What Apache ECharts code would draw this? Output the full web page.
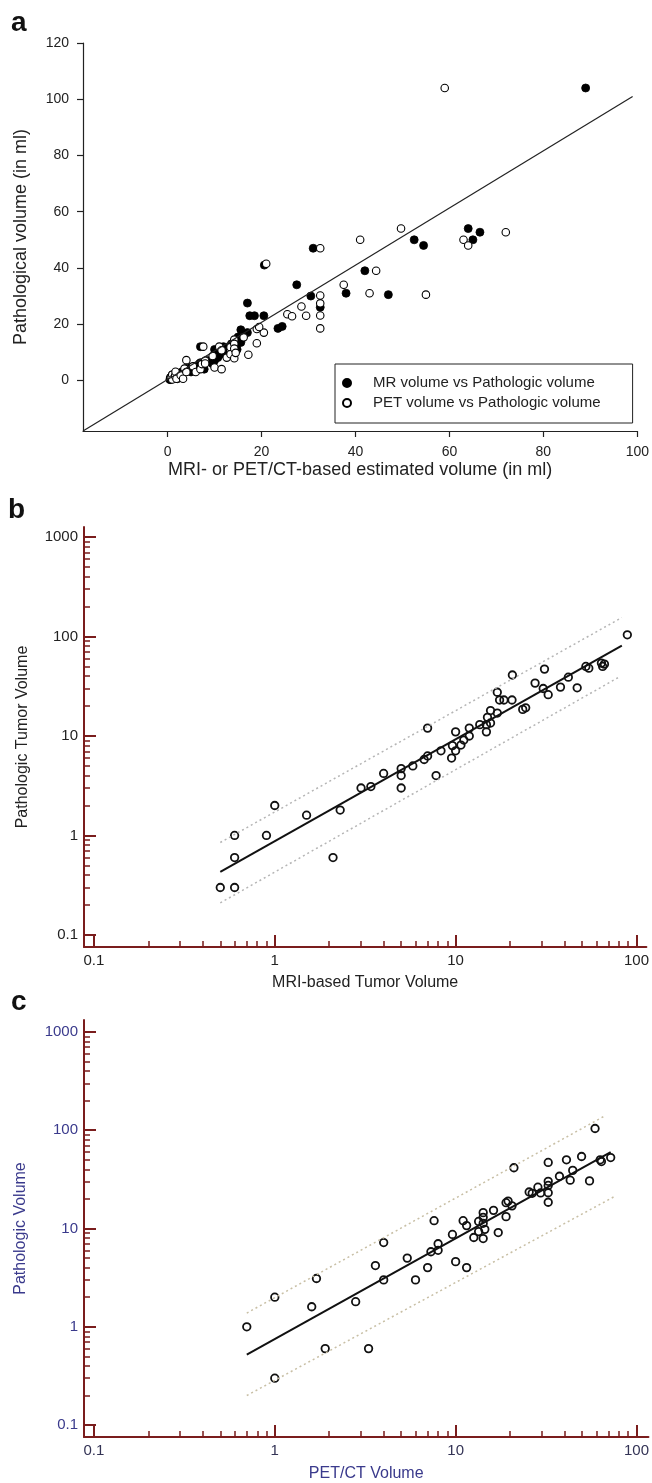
<!DOCTYPE html>
<html><head><meta charset="utf-8">
<script src="https://cdn.jsdelivr.net/npm/echarts@6/dist/echarts.min.js"></script>
<style>html,body{margin:0;padding:0;background:#fff}#chart{width:652px;height:1483px}</style>
</head><body><div id="chart"></div>
<script>
// MRI-based volume vs pathologic volume (ml)
const mrPoints = [
[0.5,0.3],[0.6,0.3],[0.6,0.6],[0.6,1.0],[0.9,1.0],[1.0,2.0],[1.5,1.6],[2.1,0.6],[2.3,1.8],[3.0,3.0],
[3.4,3.1],[4.0,4.2],[5.0,4.7],[5.0,4.0],[5.0,3.0],[5.8,5.0],[6.7,5.8],[7.0,6.3],[7.0,12],[7.8,4.0],
[8.3,7.1],[9.5,6.0],[9.6,8.0],[10,11],[10,7.1],[10.7,8.1],[11.1,9.1],[11.9,10],[11.9,12],[13.6,13],
[14.8,11],[14.8,13],[15,15.4],[15.6,18],[15.6,13.5],[17,17],[17,27.5],[17.5,23],[18.5,23],[20.5,23],
[20.6,41],[23.5,18.5],[24.4,19.2],[27.5,34],[30.5,30],[31,47],[32.5,26],[38,31],[42,39],[47,30.5],
[52.5,50],[54.5,48],[64,54],[65,50],[66.5,52.7],[89,104]
];
// PET/CT-based volume vs pathologic volume (ml)
const petPoints = [
[0.7,1.0],[1,2],[1,0.3],[1.6,1.6],[1.7,3.1],[1.9,0.6],[2.8,1.8],[3.3,0.6],[3.6,4.2],[4,7.2],
[4,3],[5.4,5],[6,3],[7,4],[7.3,5.8],[8,7],[8,6],[7.6,12],[9.6,8.7],[10,4.6],
[11.5,4],[11,12],[11.5,10.7],[12.6,8.1],[13.4,11.8],[13.4,9.3],[14.2,7.9],[14.2,14.5],[14.2,13],[14.2,11.3],
[14.5,9.8],[16.2,15.3],[17.2,9.1],[19,18.3],[19,13.2],[20.5,17],[19.5,19],[21,41.5],[25.5,23.5],[26.5,22.8],
[28.5,26.3],[29.5,23],[32.5,47],[32.5,30.2],[32.5,27.4],[32.5,23.1],[32.5,18.5],[37.5,34],[41,50],[43,31],
[44.4,39],[49.7,54],[55,30.5],[59,104],[63,50],[64,48],[72,52.7]
];
// reference / regression lines (endpoints in data units)
const identityLine = [[-18,-18],[99,101]];
const mrFit = [[0.5,0.43],[83,81]];
const mrUpper = [[0.5,0.85],[83,155]];
const mrLower = [[0.5,0.21],[80,39]];
const petFit = [[0.7,0.52],[72,60]];
const petUpper = [[0.7,1.38],[66,138]];
const petLower = [[0.7,0.2],[75,21]];
// tick labels
const linXTicks = [0,20,40,60,80,100];
const linYTicks = [0,20,40,60,80,100,120];
const logMajor = [0.1,1,10,100,1000];
const logMinor = [0.2,0.3,0.4,0.5,0.6,0.7,0.8,0.9,2,3,4,5,6,7,8,9,20,30,40,50,60,70,80,90,200,300,400,500,600,700,800,900];
const legendNames = ['MR volume vs Pathologic volume','PET volume vs Pathologic volume'];
const panelLetters = ['a','b','c'];

const FONT = 'Liberation Sans, Arial, sans-serif';
const RED = '#7a1d1d';
const NAVY = '#3a3a8c';
const fmt = v => String(Number(Number(v).toPrecision(6)));

function logAxes(dim, gridIndex, min, max, name, nameGap, labelColor, nameColor) {
  const pos = dim === 'x' ? 'bottom' : 'left';
  const main = {
    type: 'log', logBase: 10, gridIndex, min, max, position: pos,
    name, nameLocation: 'middle', nameGap,
    nameRotate: dim === 'y' ? 90 : 0,
    nameTextStyle: {fontFamily: FONT, fontSize: 16, color: nameColor},
    axisLine: {show: true, onZero: false, lineStyle: {color: RED, width: 2}},
    axisTick: {show: true, inside: true, length: 12, customValues: logMajor, lineStyle: {color: RED, width: 2}},
    minorTick: {show: false},
    axisLabel: {show: true, customValues: logMajor, formatter: fmt, margin: 6,
      fontFamily: FONT, fontSize: 15, color: labelColor},
    splitLine: {show: false}
  };
  const minor = {
    type: 'log', logBase: 10, gridIndex, min, max, position: pos,
    axisLine: {show: false, onZero: false},
    axisTick: {show: true, inside: true, length: 6, customValues: logMinor, lineStyle: {color: RED, width: 1.5}},
    axisLabel: {show: false},
    splitLine: {show: false}
  };
  return [main, minor];
}

const bX = logAxes('x', 1, 0.0882, 113.4, 'MRI-based Tumor Volume', 28, '#222', '#222');
const bY = logAxes('y', 1, 0.0757, 1260, 'Pathologic Tumor Volume', 53, '#222', '#222');
const cX = logAxes('x', 2, 0.0881, 116.4, 'PET/CT Volume', 29, '#333355', NAVY);
const cY = logAxes('y', 2, 0.0757, 1321, 'Pathologic Volume', 55, NAVY, NAVY);

const linAxisCommon = {
  axisLine: {show: true, onZero: false, lineStyle: {color: '#222', width: 1.2}},
  splitLine: {show: false}
};

const option = {
  animation: false,
  backgroundColor: '#fff',
  title: [
    {text: panelLetters[0], left: 11, top: 9},
    {text: panelLetters[1], left: 8, top: 496},
    {text: panelLetters[2], left: 11, top: 988}
  ].map(t => Object.assign(t, {padding: 0, textStyle: {fontFamily: FONT, fontSize: 28, fontWeight: 'bold', color: '#111', lineHeight: 28}})),
  grid: [
    {left: 83, top: 43, width: 559, height: 388},
    {left: 84, top: 527, width: 568, height: 420},
    {left: 84, top: 1020, width: 568, height: 420}
  ],
  legend: {
    data: legendNames,
    orient: 'vertical',
    left: 335, top: 364,
    padding: [10, 32, 11, 7],
    itemWidth: 42, itemHeight: 8, itemGap: 2,
    borderColor: '#222', borderWidth: 1,
    selectedMode: false,
    textStyle: {fontFamily: FONT, fontSize: 15, color: '#222', lineHeight: 18}
  },
  xAxis: [
    Object.assign({
      type: 'value', gridIndex: 0, min: -18, max: 100, position: 'bottom',
      name: 'MRI- or PET/CT-based estimated volume (in ml)', nameLocation: 'middle', nameGap: 30,
      nameTextStyle: {fontFamily: FONT, fontSize: 18, color: '#222'},
      axisTick: {show: true, length: 6, customValues: linXTicks, lineStyle: {color: '#222', width: 1.2}},
      axisLabel: {customValues: linXTicks, margin: 14, fontFamily: FONT, fontSize: 14, color: '#222'}
    }, linAxisCommon),
    bX[0], bX[1], cX[0], cX[1]
  ],
  yAxis: [
    Object.assign({
      type: 'value', gridIndex: 0, min: -18, max: 120, position: 'left',
      name: 'Pathological volume (in ml)', nameLocation: 'middle', nameGap: 53, nameRotate: 90,
      nameTextStyle: {fontFamily: FONT, fontSize: 18, color: '#222'},
      axisTick: {show: true, length: 6, customValues: linYTicks, lineStyle: {color: '#222', width: 1.2}},
      axisLabel: {customValues: linYTicks, margin: 14, fontFamily: FONT, fontSize: 14, color: '#222'}
    }, linAxisCommon),
    bY[0], bY[1], cY[0], cY[1]
  ],
  series: [
    {type: 'line', xAxisIndex: 0, yAxisIndex: 0, data: identityLine, symbol: 'none', silent: true,
      lineStyle: {color: '#222', width: 1.2}},
    {name: legendNames[0], type: 'scatter', xAxisIndex: 0, yAxisIndex: 0, data: mrPoints, symbol: 'circle', symbolSize: 8,
      itemStyle: {color: '#000', borderColor: '#000', borderWidth: 0.8, opacity: 1}},
    {name: legendNames[1], type: 'scatter', xAxisIndex: 0, yAxisIndex: 0, data: petPoints, symbol: 'circle', symbolSize: 7.5,
      itemStyle: {color: '#fff', borderColor: '#000', borderWidth: 1.1, opacity: 1}},

    {type: 'line', xAxisIndex: 1, yAxisIndex: 1, data: mrUpper, symbol: 'none', silent: true,
      lineStyle: {color: '#b5b5b5', width: 1.5, type: [2, 3]}},
    {type: 'line', xAxisIndex: 1, yAxisIndex: 1, data: mrLower, symbol: 'none', silent: true,
      lineStyle: {color: '#b5b5b5', width: 1.5, type: [2, 3]}},
    {type: 'line', xAxisIndex: 1, yAxisIndex: 1, data: mrFit, symbol: 'none', silent: true,
      lineStyle: {color: '#111', width: 2}},
    {type: 'scatter', xAxisIndex: 1, yAxisIndex: 1, data: mrPoints, symbol: 'circle', symbolSize: 7.5,
      itemStyle: {color: 'rgba(255,255,255,0)', borderColor: '#111', borderWidth: 1.8, opacity: 1}},

    {type: 'line', xAxisIndex: 3, yAxisIndex: 3, data: petUpper, symbol: 'none', silent: true,
      lineStyle: {color: '#c8bfa5', width: 1.5, type: [2, 3]}},
    {type: 'line', xAxisIndex: 3, yAxisIndex: 3, data: petLower, symbol: 'none', silent: true,
      lineStyle: {color: '#c8bfa5', width: 1.5, type: [2, 3]}},
    {type: 'line', xAxisIndex: 3, yAxisIndex: 3, data: petFit, symbol: 'none', silent: true,
      lineStyle: {color: '#111', width: 2}},
    {type: 'scatter', xAxisIndex: 3, yAxisIndex: 3, data: petPoints, symbol: 'circle', symbolSize: 7.5,
      itemStyle: {color: 'rgba(255,255,255,0)', borderColor: '#111', borderWidth: 1.8, opacity: 1}}
  ]
};

const chart = echarts.init(document.getElementById('chart'), null, {renderer: 'canvas'});
chart.setOption(option);
</script>
</body></html>
